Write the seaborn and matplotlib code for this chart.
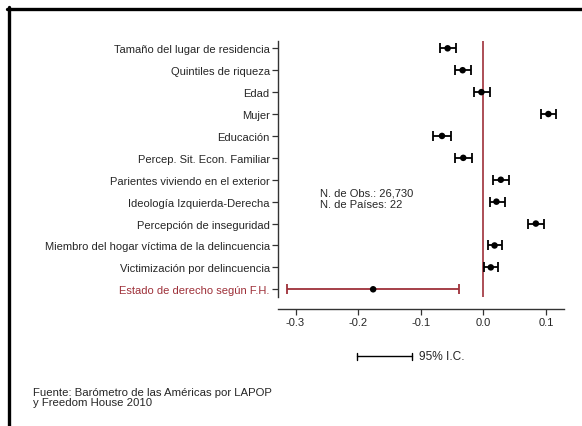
import matplotlib
matplotlib.use("Agg")
import matplotlib.pyplot as plt
import pandas as pd
import seaborn as sns
from matplotlib.lines import Line2D

# coefficients and 95% CI bounds
variables = ["Tamaño del lugar de residencia", "Quintiles de riqueza", "Edad", "Mujer",
             "Educación", "Percep. Sit. Econ. Familiar", "Parientes viviendo en el exterior",
             "Ideología Izquierda-Derecha", "Percepción de inseguridad",
             "Miembro del hogar víctima de la delincuencia", "Victimización por delincuencia",
             "Estado de derecho según F.H."]
coef = [-0.057, -0.033, -0.003, 0.104, -0.066, -0.032, 0.028, 0.021, 0.084, 0.018, 0.012, -0.176]
lower = [-0.069, -0.045, -0.015, 0.093, -0.080, -0.045, 0.016, 0.010, 0.072, 0.007, 0.001, -0.313]
upper = [-0.044, -0.019, 0.010, 0.116, -0.051, -0.018, 0.041, 0.034, 0.097, 0.030, 0.024, -0.039]
group = ["ind"] * 11 + ["país"]
xticks = [-0.3, -0.2, -0.1, 0.0, 0.1]

red = "#9E3039"
colors = {"ind": "black", "país": red}

df = pd.DataFrame({"var": variables, "coef": coef, "lo": lower, "hi": upper, "grp": group})
df["row"] = range(len(df))

sns.set_style("white")
plt.rcParams["font.family"] = ["Liberation Sans", "DejaVu Sans"]

fig = plt.figure(figsize=(5.82, 4.27), dpi=100)
ax = fig.add_axes([0.4777, 0.274, 0.4914, 0.6276])

# zero reference line
ax.vlines(0, -0.333, 11.36, color=red, lw=1.2, zorder=1)

for _, r in df.iterrows():
    ax.errorbar(r["coef"], r["row"], xerr=[[r["coef"] - r["lo"]], [r["hi"] - r["coef"]]],
                fmt="none", ecolor=colors[r["grp"]], elinewidth=1.3, capsize=3.3,
                capthick=1.3, zorder=2)

sns.scatterplot(data=df, x="coef", y="row", hue="grp", palette={"ind": "black", "país": "black"},
                s=22, edgecolor="none", legend=False, ax=ax, zorder=3)

ax.set_xlim(-0.328, 0.129)
ax.set_ylim(11.9, -0.333)
ax.set_yticks(df["row"])
ax.set_yticklabels(variables, fontsize=8)
ax.get_yticklabels()[-1].set_color(red)
ax.set_xticks(xticks)
ax.set_xticklabels([f"{t:.1f}" for t in xticks], fontsize=8)
ax.set_xlabel("")
ax.set_ylabel("")

for s in ["top", "right"]:
    ax.spines[s].set_visible(False)
for s in ["left", "bottom"]:
    ax.spines[s].set_color("#333333")
    ax.spines[s].set_linewidth(1.0)
ax.spines["left"].set_bounds(-0.333, 11.36)
ax.tick_params(axis="both", length=4, width=0.9, color="#333333", pad=2, left=True, bottom=True)

ax.text(-0.261, 6.84, "N. de Obs.: 26,730\nN. de Países: 22", fontsize=8,
        va="center", ha="left", linespacing=1.2)

# legend glyph for the CI
W, H = 582, 427
ly = 1 - 357 / H
fig.add_artist(Line2D([357 / W, 412 / W], [ly, ly], color="black", lw=1.0))
for xx in (357, 412):
    fig.add_artist(Line2D([xx / W, xx / W], [ly - 3.5 / H, ly + 3.5 / H], color="black", lw=1.0))
fig.text(419 / W, ly, "95% I.C.", fontsize=8.6, va="center", ha="left")

fig.text(33 / W, 1 - 398 / H, "Fuente: Barómetro de las Américas por LAPOP\ny Freedom House 2010",
         fontsize=8.2, va="center", ha="left", linespacing=1.12)

# frame lines along top and left edges
fig.add_artist(Line2D([7 / W, 1], [1 - 10 / H, 1 - 10 / H], color="black", lw=2.4))
fig.add_artist(Line2D([9 / W, 9 / W], [0, 1 - 8 / H], color="black", lw=2.4))

fig.savefig("out.png", dpi=100)
